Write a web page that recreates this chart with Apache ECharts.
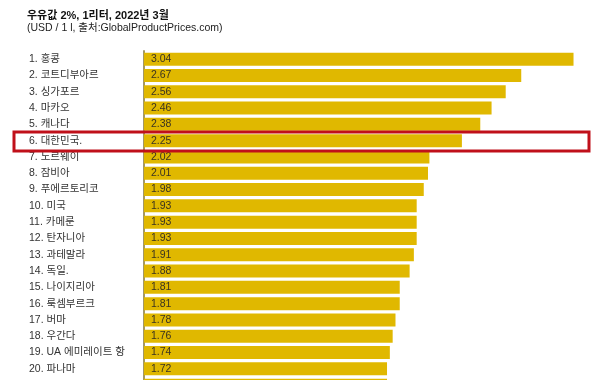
<!DOCTYPE html>
<html><head><meta charset="utf-8">
<script src="https://cdn.jsdelivr.net/npm/echarts@6/dist/echarts.min.js"></script>
<style>html,body{margin:0;padding:0;background:#fff;overflow:hidden}#c{width:600px;height:396px}</style>
</head><body><div id="c"></div>
<script>
const titleText = '우유값 2%, 1리터, 2022년 3월';
const subtitleText = '(USD / 1 l, 출처:GlobalProductPrices.com)';
const categories = ['1. 홍콩','2. 코트디부아르','3. 싱가포르','4. 마카오','5. 캐나다','6. 대한민국.','7. 노르웨이','8. 잠비아','9. 푸에르토리코','10. 미국','11. 카메룬','12. 탄자니아','13. 과테말라','14. 독일.','15. 나이지리아','16. 룩셈부르크','17. 버마','18. 우간다','19. UA 에미레이트 항','20. 파나마',''];
const values = [3.04,2.67,2.56,2.46,2.38,2.25,2.02,2.01,1.98,1.93,1.93,1.93,1.91,1.88,1.81,1.81,1.78,1.76,1.74,1.72,1.72];
const labels = ['3.04','2.67','2.56','2.46','2.38','2.25','2.02','2.01','1.98','1.93','1.93','1.93','1.91','1.88','1.81','1.81','1.78','1.76','1.74','1.72',''];

const chart = echarts.init(document.getElementById('c'));
chart.setOption({
  animation:false,
  backgroundColor:'#ffffff',
  title:[
    {text:titleText,left:22,top:5,textStyle:{fontFamily:'Liberation Sans, Noto Sans CJK KR',fontSize:11,fontWeight:'bold',color:'#111'}},
    {text:subtitleText,left:22,top:18,textStyle:{fontFamily:'Liberation Sans, Noto Sans CJK KR',fontSize:10.5,fontWeight:'normal',color:'#222'}}
  ],
  grid:{left:144,top:51,right:18,height:342.3,containLabel:false},
  xAxis:{type:'value',min:0,max:3.1,show:false},
  yAxis:{type:'category',data:categories,inverse:true,
    axisLine:{show:true,lineStyle:{color:'#a39866',width:2}},
    axisTick:{show:false},
    axisLabel:{align:'left',margin:115,fontFamily:'Liberation Sans, Noto Sans CJK KR',fontSize:10.5,color:'#333'}
  },
  series:[{type:'bar',data:values,barWidth:13,
    itemStyle:{color:'#E0B800'},
    label:{show:true,position:'insideLeft',offset:[2,0],
      formatter:p=>labels[p.dataIndex],
      fontFamily:'Liberation Sans',fontSize:10.5,color:'#3a3320'}
  }],
  graphic:[{type:'rect',shape:{x:14,y:132,width:575,height:19},style:{fill:null,stroke:'#C0101A',lineWidth:3},z:100}]
});
</script></body></html>
